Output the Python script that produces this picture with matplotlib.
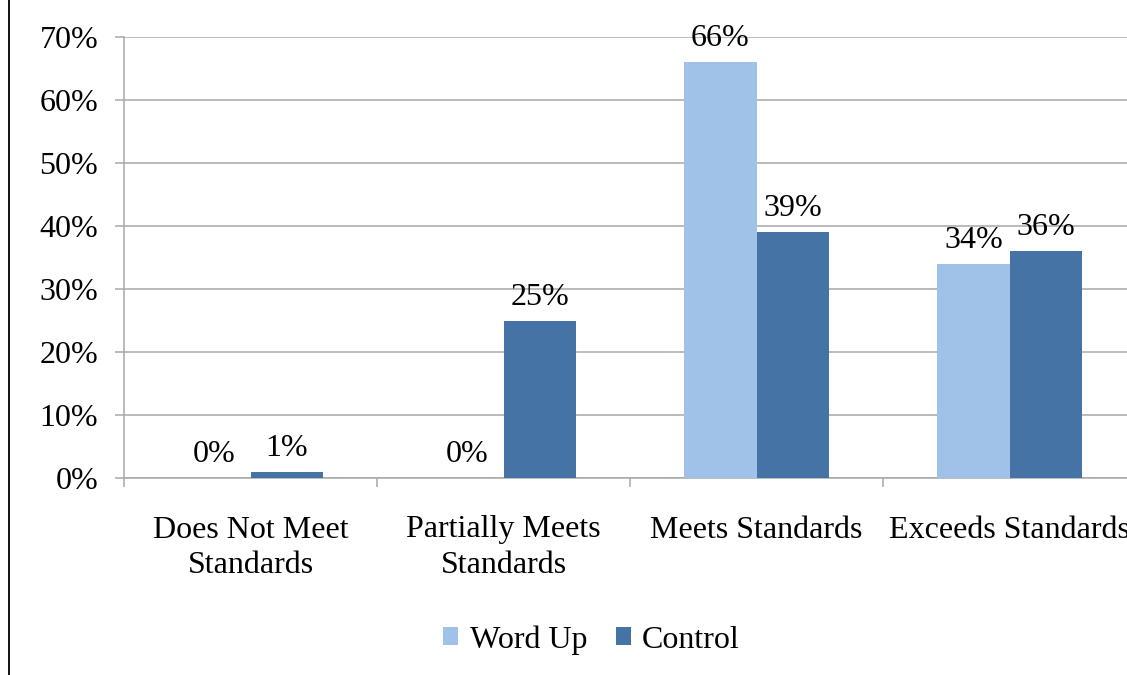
import matplotlib
matplotlib.use("Agg")
import matplotlib.pyplot as plt
from matplotlib.lines import Line2D
from matplotlib.patches import Patch
import numpy as np

categories = ["Does Not Meet\nStandards", "Partially Meets\nStandards",
              "Meets Standards", "Exceeds Standards"]
series_names = ["Word Up", "Control"]
word_up = [0.00, 0.00, 0.66, 0.34]
control = [0.01, 0.25, 0.39, 0.36]
y_ticks = [0.0, 0.1, 0.2, 0.3, 0.4, 0.5, 0.6, 0.7]
y_tick_labels = ["0%", "10%", "20%", "30%", "40%", "50%", "60%", "70%"]

light_blue = "#A0C2E8"
dark_blue = "#4673A5"
grid_gray = "#A8A8A8"

plt.rcParams["font.family"] = ["Liberation Serif", "DejaVu Serif"]
FS = 23

fig = plt.figure(figsize=(11.27, 6.75), dpi=100)
ax = fig.add_axes([124 / 1127, 1 - 478 / 675, 1012 / 1127, 441 / 675])

x = np.arange(len(categories))
bw = 0.285
b1 = ax.bar(x - bw / 2, word_up, bw, color=light_blue, zorder=3)
b2 = ax.bar(x + bw / 2, control, bw, color=dark_blue, zorder=3)

for bars, vals in ((b1, word_up), (b2, control)):
    for rect, v in zip(bars, vals):
        ax.annotate(f"{v:.0%}", (rect.get_x() + rect.get_width() / 2, v),
                    xytext=(0, 11.5), textcoords="offset points",
                    ha="center", va="baseline", fontsize=FS, zorder=4)

ax.set_xlim(-0.5, len(categories) - 0.5)
ax.set_ylim(0, 0.7)
ax.set_yticks(y_ticks)
ax.set_yticklabels(y_tick_labels, fontsize=FS)
ax.yaxis.grid(True, color=grid_gray, linewidth=1.1, zorder=0)

# category boundaries as major ticks, labels on minor ticks
ax.set_xticks(np.arange(len(categories) + 1) - 0.5)
ax.set_xticklabels([])
ax.set_xticks(x, minor=True)
ax.set_xticklabels(categories, minor=True, fontsize=FS, linespacing=1.3)
ax.tick_params(axis="x", which="major", length=6.5, width=1.1,
               color=grid_gray, direction="out")
ax.tick_params(axis="x", which="minor", length=0, pad=27)
ax.tick_params(axis="y", length=6.5, width=1.1, color=grid_gray,
               direction="out", pad=12)

for side in ("top", "right"):
    ax.spines[side].set_visible(False)
for side in ("left", "bottom"):
    ax.spines[side].set_color(grid_gray)
    ax.spines[side].set_linewidth(1.1)

handles = [Patch(facecolor=light_blue), Patch(facecolor=dark_blue)]
fig.legend(handles, series_names, loc="center", bbox_to_anchor=(0.525, 0.052),
           ncol=2, frameon=False, fontsize=FS, handlelength=0.47,
           handleheight=0.47, handletextpad=0.35, columnspacing=0.9)

# thin rule along the left edge of the page
fig.add_artist(Line2D([8.5 / 1127, 8.5 / 1127], [0, 1], color="black",
                      linewidth=1.3, transform=fig.transFigure))

fig.savefig("out.png", dpi=100)
